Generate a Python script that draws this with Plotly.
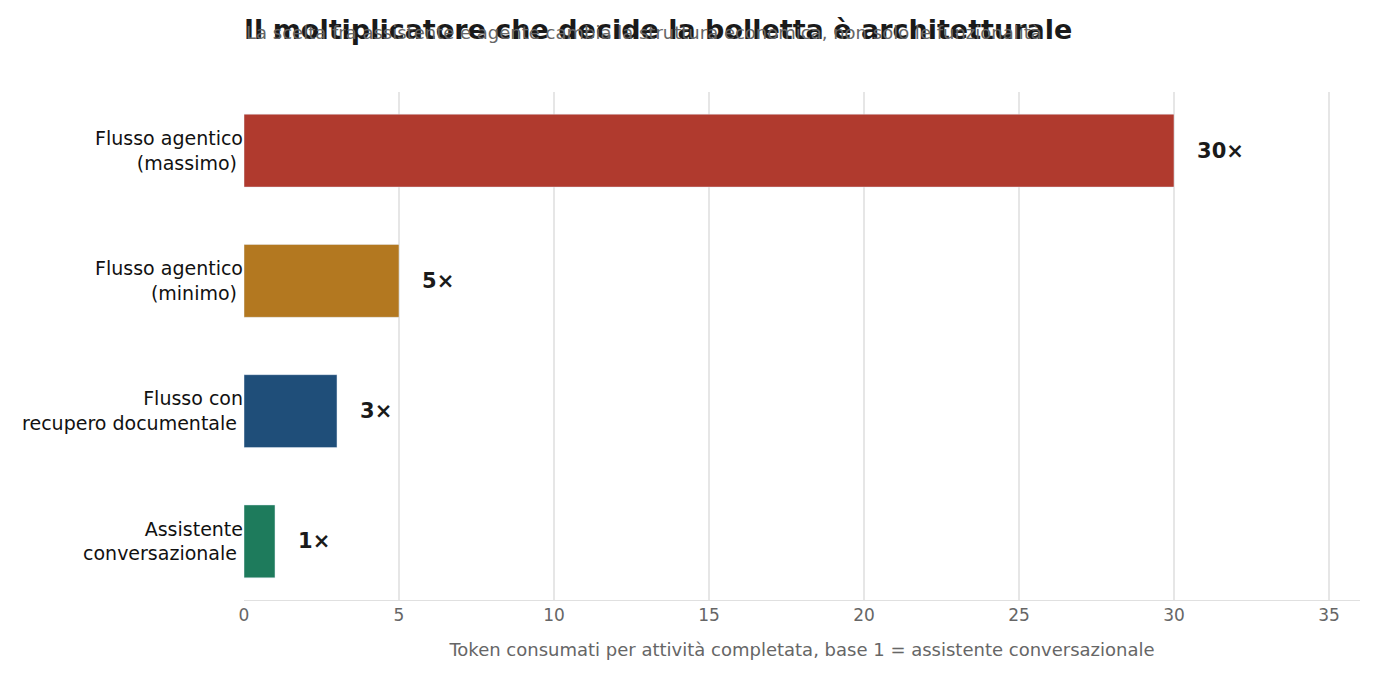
import plotly.graph_objects as go

categories = ["Assistente<br>conversazionale", "Flusso con<br>recupero documentale",
              "Flusso agentico<br>(minimo)", "Flusso agentico<br>(massimo)"]
values = [1, 3, 5, 30]
labels = ["1×", "3×", "5×", "30×"]
colors = ["#1e7b5c", "#1f4e79", "#b37820", "#b03a2e"]

fig = go.Figure(go.Bar(
    x=values, y=categories, orientation="h",
    marker=dict(color=colors), width=0.56,
    text=["<b>%s</b>" % t for t in labels], textposition="outside",
    textfont=dict(size=21, color="#1a1a1a", family="DejaVu Sans"),
    cliponaxis=False, hoverinfo="skip",
))

# push labels a bit away from bar ends
fig.update_traces(texttemplate="   %{text}")

fig.update_layout(
    width=1375, height=678,
    font=dict(family="DejaVu Sans", size=17, color="#111"),
    plot_bgcolor="white", paper_bgcolor="white",
    margin=dict(l=236, r=23, t=84, b=86),
    showlegend=False,
    title=dict(text="<b>Il moltiplicatore che decide la bolletta è architetturale</b>",
               x=236/1375, xanchor="left", y=0.9675, yanchor="middle",
               font=dict(size=27, color="#1a1a1a")),
    annotations=[dict(text="La scelta fra assistente e agente cambia la struttura economica, non solo le funzionalità",
                      xref="paper", yref="paper", x=0, y=1.0, yshift=60, xanchor="left",
                      yanchor="middle", showarrow=False,
                      font=dict(size=18, color="#666"))],
    xaxis=dict(range=[0, 36], dtick=5, showgrid=True, gridcolor="#e6e6e6", gridwidth=1.5,
               zeroline=False, showline=True, linecolor="#e0e0e0",
               tickfont=dict(size=17, color="#666"),
               title=dict(text="Token consumati per attività completata, base 1 = assistente conversazionale",
                          font=dict(size=18, color="#666"), standoff=18)),
    yaxis=dict(showgrid=False, tickfont=dict(size=19, color="#111"), ticksuffix=" ",
               range=[-0.45, 3.45]),
)

fig.write_html("out.html")
